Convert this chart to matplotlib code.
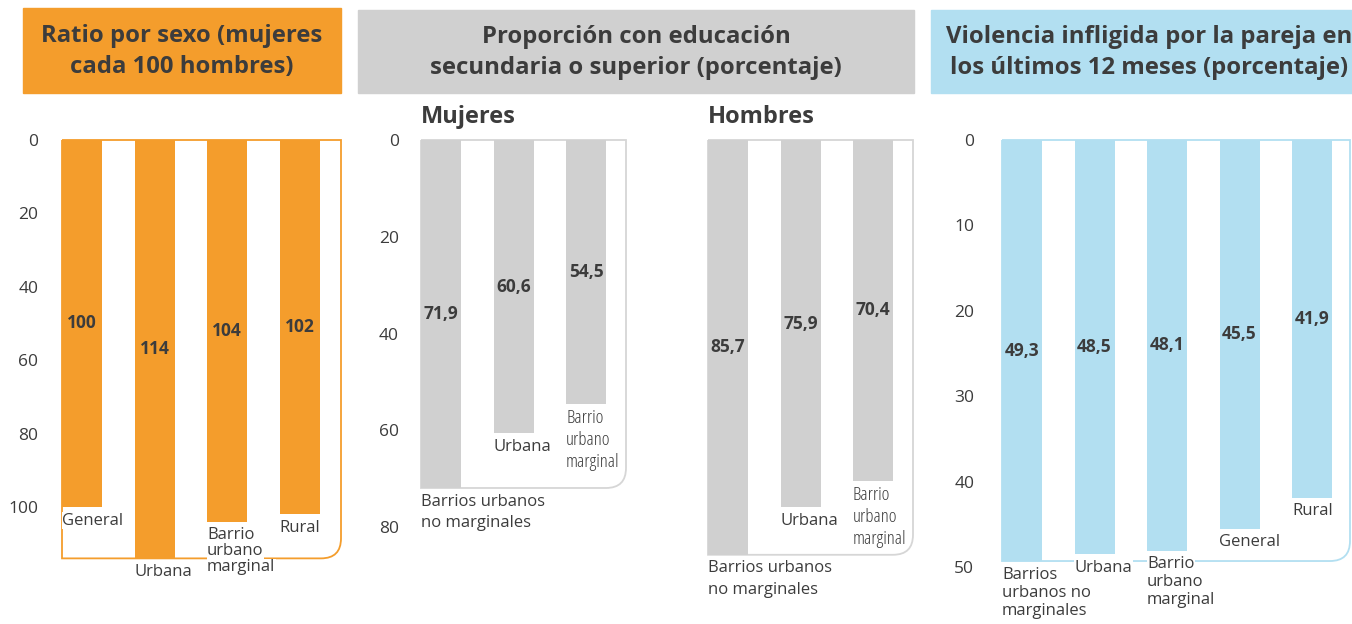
import matplotlib
matplotlib.use('Agg')
import matplotlib.pyplot as plt
from matplotlib.patches import Rectangle, PathPatch
from matplotlib.path import Path

plt.rcParams['font.family'] = ['Open Sans', 'DejaVu Sans']

# data
sexo_cats = ['General', 'Urbana', 'Barrio\nurbano\nmarginal', 'Rural']
sexo_vals = [100, 114, 104, 102]
sexo_ticks = [0, 20, 40, 60, 80, 100]

edu_cats = ['Barrios urbanos\nno marginales', 'Urbana', 'Barrio\nurbano\nmarginal']
edu_mujeres = [71.9, 60.6, 54.5]
edu_hombres = [85.7, 75.9, 70.4]
edu_ticks = [0, 20, 40, 60, 80]

vio_cats = ['Barrios\nurbanos no\nmarginales', 'Urbana', 'Barrio\nurbano\nmarginal', 'General', 'Rural']
vio_vals = [49.3, 48.5, 48.1, 45.5, 41.9]
vio_ticks = [0, 10, 20, 30, 40, 50]

W, H = 1352, 624
ORANGE = '#F49D2C'
GRAY = '#D0D0D0'
BLUE = '#B2DFF1'
TXT = '#3C3C3C'
UNIT = 72.5      # px between bars
BW = 40 / UNIT   # bar width in data units

fig = plt.figure(figsize=(W / 100, H / 100), dpi=100)


def header(x0, x1, y0, y1, color, text, cx=None):
    fig.patches.append(Rectangle((x0 / W, 1 - y1 / H), (x1 - x0) / W, (y1 - y0) / H,
                                 transform=fig.transFigure, color=color, zorder=0))
    cx = (x0 + x1) / 2 if cx is None else cx
    fig.text(cx / W, 1 - (y0 + y1 + 2) / 2 / H, text, ha='center', va='center',
             fontsize=17.2, fontweight='bold', color=TXT, linespacing=1.38)


def panel(x0, x1, scale, cats, vals, color, edge, ticks, fmt, narrow=False,
          step=12, tickpad=18):
    top, bot = 140, 624
    ax = fig.add_axes([x0 / W, 1 - bot / H, (x1 - x0) / W, (bot - top) / H])
    xl = -BW / 2
    xr = xl + (x1 - x0) / UNIT
    ax.set_xlim(xl, xr)
    ax.set_ylim((bot - top) / scale, 0)
    pos = list(range(len(vals)))
    ax.bar(pos, vals, width=BW, color=color, zorder=2)
    for s in ax.spines.values():
        s.set_visible(False)
    ax.set_xticks([])
    if ticks:
        ax.set_yticks(ticks)
        ax.tick_params(axis='y', length=0, pad=tickpad, labelsize=12.5, labelcolor=TXT)
    else:
        ax.set_yticks([])
    # outline box with rounded bottom-right corner
    ymax = max(vals)
    rx, ry = 20 / UNIT, 20 / scale
    verts = [(xl, 0), (xr, 0), (xr, ymax - ry), (xr, ymax), (xr - rx, ymax), (xl, ymax), (xl, 0)]
    codes = [Path.MOVETO, Path.LINETO, Path.LINETO, Path.CURVE3, Path.CURVE3, Path.LINETO, Path.LINETO]
    ax.add_patch(PathPatch(Path(verts, codes), facecolor='none', edgecolor=edge, lw=1.3,
                           zorder=1, clip_on=False))
    for p, v, c in zip(pos, vals, cats):
        ax.text(p, v / 2, fmt(v), ha='center', va='center', fontsize=12.5,
                fontweight='bold', color=TXT, zorder=4)
        kw = dict(fontsize=12, color=TXT)
        st = step
        if narrow and c.startswith('Barrio\n'):
            kw['fontsize'] = 13.5
            kw['fontstretch'] = 'condensed'
            st = 15.8
        for i, line in enumerate(c.split('\n')):
            t = ax.annotate(line, (p - BW / 2, v), xytext=(0, -4 - i * st),
                            textcoords='offset points', ha='left', va='top', zorder=5,
                            annotation_clip=False, **kw)
            t.set_bbox(dict(facecolor='white', edgecolor='none', pad=0.2))
    return ax


# headers
header(23, 341, 8, 93, ORANGE, 'Ratio por sexo (mujeres\ncada 100 hombres)')
header(358, 914, 10, 93, GRAY, 'Proporción con educación\nsecundaria o superior (porcentaje)')
header(931, 1352 + 20, 10, 93, BLUE, 'Violencia infligida por la pareja en\nlos últimos 12 meses (porcentaje)',
       cx=1149)

panel(62, 341, 3.67, sexo_cats, sexo_vals, ORANGE, ORANGE, sexo_ticks,
      lambda v: f'{v:d}', step=11.5, tickpad=17)

edu_fmt = lambda v: f'{v:.1f}'.replace('.', ',')
panel(421, 626, 4.84, edu_cats, edu_mujeres, GRAY, '#D6D6D6', edu_ticks, edu_fmt,
      narrow=True, step=15.8, tickpad=16)
panel(708, 913, 4.84, edu_cats, edu_hombres, GRAY, '#D6D6D6', None, edu_fmt,
      narrow=True, step=15.8)
fig.text(421 / W, 1 - 117 / H, 'Mujeres', ha='left', va='center', fontsize=17,
         fontweight='bold', color=TXT)
fig.text(708 / W, 1 - 117 / H, 'Hombres', ha='left', va='center', fontsize=17,
         fontweight='bold', color=TXT)

panel(1002, 1350, 8.54, vio_cats, vio_vals, BLUE, BLUE, vio_ticks, edu_fmt,
      step=13, tickpad=20)

fig.savefig('out.png', dpi=100, facecolor='white')
